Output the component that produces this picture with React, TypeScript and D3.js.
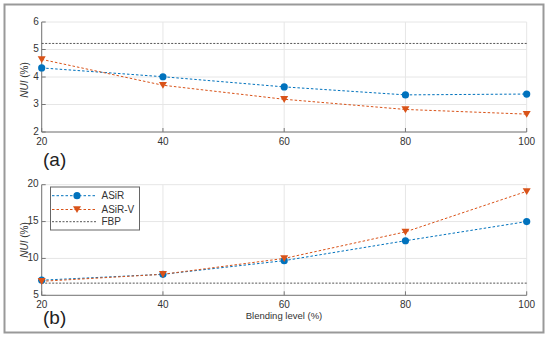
import React from "react";
import * as d3 from "d3";

const blending = [20, 40, 60, 80, 100];
const asirA = [4.33, 4.01, 3.64, 3.35, 3.38];
const asirVA = [4.64, 3.7, 3.19, 2.82, 2.65];
const fbpA = 5.22;
const asirB = [7.05, 7.85, 9.7, 12.4, 15.0];
const asirVB = [6.9, 7.85, 10.0, 13.6, 19.1];
const fbpB = 6.65;
const yTicksA = [2, 3, 4, 5, 6];
const yTicksB = [5, 10, 15, 20];
const legendLabels = ["ASiR", "ASiR-V", "FBP"];

const BLUE = "#0072BD";
const ORANGE = "#D95319";
const GRAY = "#555";
const FONT = "'Liberation Sans', Arial, sans-serif";

const x = d3.scaleLinear().domain([20, 100]).range([41.7, 526.7]);

function Tri({ cx, cy, s = 4 }: { cx: number; cy: number; s?: number }) {
  return (
    <path
      d={`M${cx - s},${cy - s * 0.8} L${cx + s},${cy - s * 0.8} L${cx},${cy + s * 0.9} Z`}
      fill={ORANGE}
    />
  );
}

function Panel({
  top,
  bottom,
  domain,
  ticks,
  a,
  v,
  fbp,
  tag,
  tagY,
  labelY,
}: {
  top: number;
  bottom: number;
  domain: [number, number];
  ticks: number[];
  a: number[];
  v: number[];
  fbp: number;
  tag: string;
  tagY: number;
  labelY: number;
}) {
  const y = d3.scaleLinear().domain(domain).range([bottom, top]);
  const line = d3
    .line<number>()
    .x((_, i) => x(blending[i]))
    .y((d) => y(d));
  const [x0, x1] = x.range();
  return (
    <g>
      {ticks.map((t) => (
        <line key={"gy" + t} x1={x0} x2={x1} y1={y(t)} y2={y(t)} stroke="#e6e6e6" strokeWidth={1} />
      ))}
      {blending.map((t) => (
        <line key={"gx" + t} x1={x(t)} x2={x(t)} y1={top} y2={bottom} stroke="#e6e6e6" strokeWidth={1} />
      ))}
      <line x1={x0} x2={x0} y1={top} y2={bottom} stroke="#777" strokeWidth={1} />
      <line x1={x0} x2={x1} y1={bottom} y2={bottom} stroke="#777" strokeWidth={1} />
      {ticks.map((t) => (
        <g key={"ty" + t}>
          <line x1={x0} x2={x0 + 4} y1={y(t)} y2={y(t)} stroke="#777" />
          <text x={x0 - 3} y={y(t) - 1} dy="0.35em" textAnchor="end" fontSize={10} fill="#333" fontFamily={FONT}>
            {t}
          </text>
        </g>
      ))}
      {blending.map((t) => (
        <g key={"tx" + t}>
          <line x1={x(t)} x2={x(t)} y1={bottom} y2={bottom - 4} stroke="#777" />
          <text x={x(t)} y={bottom + 12.5} textAnchor="middle" fontSize={10} fill="#333" fontFamily={FONT}>
            {t}
          </text>
        </g>
      ))}
      <text
        transform={`translate(${28},${labelY}) rotate(-90)`}
        textAnchor="middle"
        fontSize={10}
        fill="#333"
        fontFamily={FONT}
      >
        <tspan fontStyle="italic">NUI</tspan> (%)
      </text>
      <line x1={x0} x2={x1} y1={y(fbp)} y2={y(fbp)} stroke={GRAY} strokeWidth={1} strokeDasharray="2,1.5" />
      <path d={line(a) || ""} fill="none" stroke={BLUE} strokeWidth={1} strokeDasharray="2.5,2" />
      <path d={line(v) || ""} fill="none" stroke={ORANGE} strokeWidth={1} strokeDasharray="2.5,2" />
      {a.map((d, i) => (
        <circle key={"a" + i} cx={x(blending[i])} cy={y(d)} r={3.6} fill={BLUE} />
      ))}
      {v.map((d, i) => (
        <Tri key={"v" + i} cx={x(blending[i])} cy={y(d)} />
      ))}
      <text x={43} y={tagY} fontSize={19} fill="#222" fontFamily={FONT}>
        {tag}
      </text>
    </g>
  );
}

export default function App() {
  const legendRows = [195.7, 209.5, 221.7];
  return (
    <svg width={550} height={337} style={{ position: "absolute", left: 0, top: 0 }}>
      <rect x={0} y={0} width={550} height={337} fill="#fff" />
      <rect x={4.5} y={4.5} width={539} height={328} fill="none" stroke="#999" strokeWidth={2} />
      <Panel
        top={22}
        bottom={132}
        domain={[2, 6]}
        ticks={yTicksA}
        a={asirA}
        v={asirVA}
        fbp={fbpA}
        tag="(a)"
        tagY={166}
        labelY={80}
      />
      <Panel
        top={184.7}
        bottom={295.3}
        domain={[5, 20]}
        ticks={yTicksB}
        a={asirB}
        v={asirVB}
        fbp={fbpB}
        tag="(b)"
        tagY={324}
        labelY={240}
      />
      <text x={284} y={319} textAnchor="middle" fontSize={9.5} fill="#333" fontFamily={FONT}>
        Blending level (%)
      </text>
      <rect x={50.5} y={187} width={89} height={43} fill="#fff" stroke="#666" strokeWidth={1} />
      {legendLabels.map((lab, i) => {
        const ly = legendRows[i];
        const color = i === 0 ? BLUE : i === 1 ? ORANGE : GRAY;
        return (
          <g key={lab}>
            <line x1={52} x2={97} y1={ly} y2={ly} stroke={color} strokeWidth={1} strokeDasharray={i === 2 ? "2,1.5" : "2.5,2"} />
            {i === 0 && <circle cx={77} cy={ly} r={3.6} fill={BLUE} />}
            {i === 1 && <Tri cx={77} cy={ly} />}
            <text x={101.5} y={ly} dy="0.35em" fontSize={10} fill="#333" fontFamily={FONT}>
              {lab}
            </text>
          </g>
        );
      })}
    </svg>
  );
}
